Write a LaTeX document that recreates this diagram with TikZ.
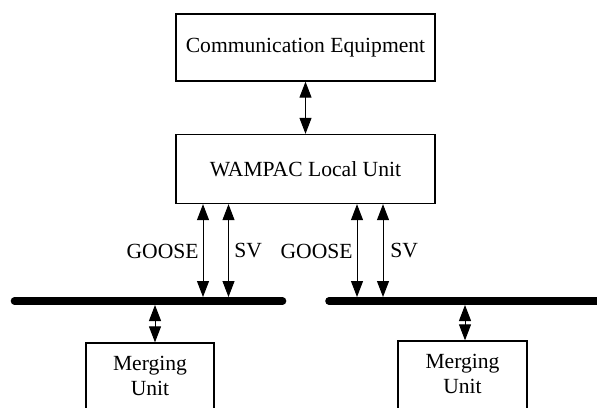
\documentclass[tikz,border=0pt]{standalone}
\usepackage{fontspec}
\setmainfont{Liberation Serif}
\usetikzlibrary{arrows.meta}
\begin{document}
\begin{tikzpicture}[x=0.5pt,y=-0.5pt,
  box/.style={draw, line width=0.65pt, inner sep=0pt},
  lbl/.style={inner sep=0pt, font=\fontsize{10.8}{12.5}\selectfont},
  link/.style={line width=0.5pt, {Triangle[length=8pt,width=6pt]}-{Triangle[length=8pt,width=6pt]}},
  bus/.style={line width=3.8pt, line cap=round}]
\useasboundingbox (0,0) rectangle (597,407);
\clip (0,0) rectangle (597,407);

% upper units
\node[box, minimum width=129.5pt, minimum height=33.5pt] (comm) at (305.5,47.5) {};
\node[lbl] (commtxt) at (comm.center) {Communication Equipment};
\node[box, minimum width=129.5pt, minimum height=34.5pt] (wam) at (305.5,169) {};
\node[lbl] (wamtxt) at (wam.center) {WAMPAC Local Unit};

% process buses
\coordinate (busAl) at (14.5,301);
\coordinate (busAr) at (282.5,301);
\coordinate (busBl) at (329,301);
\coordinate (busBr) at (620,301);
\draw[bus] (busAl) -- (busAr);
\draw[bus] (busBl) -- (busBr);

% merging units
\node[box, minimum width=64pt, minimum height=40pt] (mu1) at (150,383) {};
\node[lbl, align=center] (mu1txt) at (150,375.5) {Merging\\Unit};
\node[box, minimum width=64.5pt, minimum height=40pt] (mu2) at (462.5,381) {};
\node[lbl, align=center] (mu2txt) at (462.5,374) {Merging\\Unit};

% bus tap points
\coordinate (g1) at (203,297);
\coordinate (s1) at (228.5,297);
\coordinate (g2) at (357,297);
\coordinate (s2) at (383,297);
\coordinate (t1) at (155,305);
\coordinate (t2) at (465,305);

% links
\draw[link] (comm.south) -- (wam.north);
\draw[link] (wam.south -| g1) -- (g1);
\draw[link] (wam.south -| s1) -- (s1);
\draw[link] (wam.south -| g2) -- (g2);
\draw[link] (wam.south -| s2) -- (s2);
\draw[link] (t1) -- (t1 |- mu1.north);
\draw[link] (t2) -- (t2 |- mu2.north);

% link labels
\node[lbl, anchor=east] (goose1) at (199,251) {GOOSE};
\node[lbl, anchor=west] (sv1) at (234,251) {SV};
\node[lbl, anchor=east] (goose2) at (353,251) {GOOSE};
\node[lbl, anchor=west] (sv2) at (390,251) {SV};
\end{tikzpicture}
\end{document}
